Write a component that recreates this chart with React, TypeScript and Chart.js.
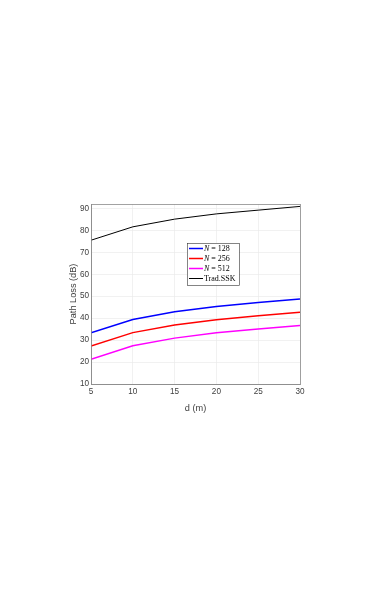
import React, { useEffect, useRef } from "react";
import { Chart, registerables } from "chart.js";

Chart.register(...registerables);

const distances = [5, 10, 15, 20, 25, 30];
const n128 = [33.3, 39.4, 42.9, 45.3, 47.1, 48.7];
const n256 = [27.3, 33.4, 36.9, 39.3, 41.1, 42.7];
const n512 = [21.3, 27.4, 30.9, 33.3, 35.1, 36.7];
const tradSSK = [75.5, 81.6, 85.1, 87.5, 89.2, 90.9];
const xTicks = [5, 10, 15, 20, 25, 30];
const yTicks = [10, 20, 30, 40, 50, 60, 70, 80, 90];
const legendLabels = [
  { n: "128", color: "#0000ff", width: 1.5 },
  { n: "256", color: "#ff0000", width: 1.5 },
  { n: "512", color: "#ff00ff", width: 1.5 },
  { n: "", text: "Trad.SSK", color: "#000000", width: 1 },
];

const boxLegendPlugin = {
  id: "boxLegend",
  afterDraw(chart: any) {
    const { ctx, chartArea } = chart;
    const { left, top, right, bottom } = chartArea;
    const w = right - left;
    const h = bottom - top;
    ctx.save();
    // axes box
    ctx.strokeStyle = "#8c8c8c";
    ctx.lineWidth = 0.8;
    ctx.strokeRect(left + 0.5, top + 0.5, w, h);
    // legend box
    const lx = left + w * (96 / 209);
    const ly = top + h * (39 / 180);
    const lw = w * (52 / 209);
    const lh = h * (42 / 180);
    ctx.fillStyle = "#ffffff";
    ctx.fillRect(lx, ly, lw, lh);
    ctx.strokeStyle = "#333333";
    ctx.lineWidth = 0.6;
    ctx.strokeRect(lx + 0.5, ly + 0.5, lw, lh);
    legendLabels.forEach((item, i) => {
      const cy = ly + 5.5 + i * 10;
      ctx.strokeStyle = item.color;
      ctx.lineWidth = item.width;
      ctx.beginPath();
      ctx.moveTo(lx + 2, cy);
      ctx.lineTo(lx + 16, cy);
      ctx.stroke();
      ctx.fillStyle = "#000000";
      ctx.textBaseline = "middle";
      let tx = lx + 17;
      if (item.n) {
        ctx.font = "italic 8px 'Liberation Serif', serif";
        ctx.fillText("N", tx, cy);
        tx += ctx.measureText("N").width;
        ctx.font = "8px 'Liberation Serif', serif";
        ctx.fillText(" = " + item.n, tx, cy);
      } else {
        ctx.font = "8px 'Liberation Serif', serif";
        ctx.fillText(item.text as string, tx, cy);
      }
    });
    ctx.restore();
  },
};

export default function App() {
  const ref = useRef<HTMLCanvasElement | null>(null);
  useEffect(() => {
    if (!ref.current) return;
    const mk = (arr: number[]) => distances.map((x, i) => ({ x, y: arr[i] }));
    const tickFont = { family: "'Liberation Sans', Arial, sans-serif", size: 8.2 };
    const titleFont = { family: "'Liberation Sans', Arial, sans-serif", size: 9.2 };
    const chart = new Chart(ref.current, {
      type: "line",
      data: {
        datasets: [
          { label: "N = 128", data: mk(n128), borderColor: "#0000ff", borderWidth: 1.5, pointRadius: 0, tension: 0 },
          { label: "N = 256", data: mk(n256), borderColor: "#ff0000", borderWidth: 1.5, pointRadius: 0, tension: 0 },
          { label: "N = 512", data: mk(n512), borderColor: "#ff00ff", borderWidth: 1.5, pointRadius: 0, tension: 0 },
          { label: "Trad.SSK", data: mk(tradSSK), borderColor: "#000000", borderWidth: 1, pointRadius: 0, tension: 0 },
        ],
      },
      options: {
        animation: false,
        responsive: false,
        maintainAspectRatio: false,
        layout: { padding: { left: 64, top: 204, right: 82, bottom: 181.5 } },
        plugins: { legend: { display: false }, tooltip: { enabled: false } },
        scales: {
          x: {
            type: "linear",
            min: 5,
            max: 30,
            afterBuildTicks: (s: any) => { s.ticks = xTicks.map((v) => ({ value: v })); },
            afterFit: (s: any) => { s.height = 33.5; },
            grid: { color: "#e8e8e8", lineWidth: 0.6, drawTicks: false },
            border: { color: "#8c8c8c", width: 0.8 },
            ticks: { color: "#404040", font: tickFont, padding: 3, maxRotation: 0 },
            title: { display: true, text: "d (m)", color: "#404040", font: titleFont, padding: { top: 4, bottom: 4 } },
          },
          y: {
            min: 10,
            max: 92,
            afterBuildTicks: (s: any) => { s.ticks = yTicks.map((v) => ({ value: v })); },
            afterFit: (s: any) => { s.width = 27; },
            grid: { color: "#e8e8e8", lineWidth: 0.6, drawTicks: false },
            border: { color: "#8c8c8c", width: 0.8 },
            ticks: { color: "#404040", font: tickFont, padding: 2 },
            title: { display: true, text: "Path Loss (dB)", color: "#404040", font: titleFont, padding: { top: 4, bottom: 4 } },
          },
        },
      },
      plugins: [boxLegendPlugin],
    } as any);
    return () => chart.destroy();
  }, []);
  return (
    <div style={{ position: "absolute", left: 0, top: 0, width: 382, height: 599, background: "#fff" }}>
      <canvas ref={ref} width={382} height={599} style={{ display: "block", width: 382, height: 599 }} />
    </div>
  );
}
